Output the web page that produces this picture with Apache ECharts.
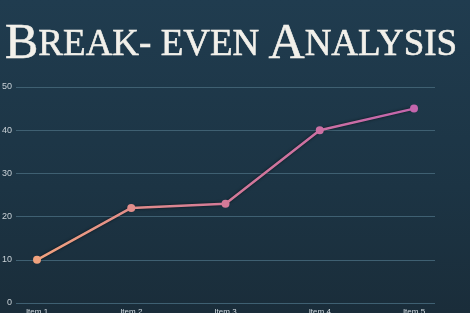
<!DOCTYPE html>
<html><head><meta charset="utf-8">
<script src="https://cdn.jsdelivr.net/npm/echarts@6/dist/echarts.min.js"></script>
<style>html,body{margin:0;padding:0;}#c{width:470px;height:313px;background:linear-gradient(180deg,#203c4f 0%,#1c3444 60%,#1a2d3a 100%);}</style>
</head><body><div id="c"></div>
<script>
const categories = ['Item 1','Item 2','Item 3','Item 4','Item 5'];
const values = [10, 22, 23, 40, 45];
const yTicks = [0, 10, 20, 30, 40, 50];
const xPositions = [0, 1, 2, 3, 4];

const chart = echarts.init(document.getElementById('c'), null, {renderer:'canvas'});
chart.setOption({
  backgroundColor: 'transparent',
  animation: false,
  title: {
    left: 0, top: 15,
    text: '{b|B}{s|REAK- EVEN }{b|A}{s|NALYSIS}',
    textStyle: {
      rich: {
        b: {fontFamily: 'Liberation Serif', fontWeight: 'normal', fontSize: 50, color: '#f2f0ea',
            textBorderColor: '#f2f0ea', textBorderWidth: 0.6},
        s: {fontFamily: 'Liberation Serif', fontWeight: 'normal', fontSize: 37, color: '#f2f0ea',
            textBorderColor: '#f2f0ea', textBorderWidth: 0.6}
      }
    }
  },
  visualMap: {show: false, type: 'continuous', dimension: 0, min: 0, max: 4, seriesIndex: 0,
    inRange: {color: ['#f0a27e', '#d37a98', '#c466ad']}},
  grid: [
    {left: 16, right: 35, top: 87, bottom: 10, containLabel: false, outerBoundsMode: 'none'},
    {left: 0, right: 0, top: 87, bottom: 10, containLabel: false, outerBoundsMode: 'none'}
  ],
  xAxis: [
    {gridIndex: 0, type: 'category', data: categories, show: false},
    {gridIndex: 1, type: 'value', min: -0.3926, max: 4.594,
      splitLine: {show: false}, axisLine: {show: false},
      axisTick: {show: false, customValues: xPositions},
      axisLabel: {customValues: xPositions, formatter: v => categories[Math.round(v)],
        rotate: 0, hideOverlap: false, showMinLabel: true, showMaxLabel: true,
        color: '#d5dde3', fontSize: 8, margin: 5, fontFamily: 'Liberation Sans'}}
  ],
  yAxis: [
    {gridIndex: 0, type: 'value', min: yTicks[0], max: yTicks[yTicks.length-1], interval: 10,
      axisLine: {show: false}, axisTick: {show: false},
      axisLabel: {color: '#c9d1d7', fontSize: 9, margin: 4, fontFamily: 'Liberation Sans'},
      splitLine: {lineStyle: {color: '#3f6072', width: 1}}},
    {gridIndex: 1, type: 'value', min: yTicks[0], max: yTicks[yTicks.length-1], interval: 10, show: false}
  ],
  series: [{
    type: 'line', xAxisIndex: 1, yAxisIndex: 1,
    data: values.map((v, i) => [xPositions[i], v]),
    symbol: 'circle', symbolSize: 8,
    lineStyle: {width: 2.5, shadowColor: 'rgba(0,0,0,0.6)', shadowBlur: 3},
    itemStyle: {borderWidth: 0}
  }]
});
</script></body></html>
